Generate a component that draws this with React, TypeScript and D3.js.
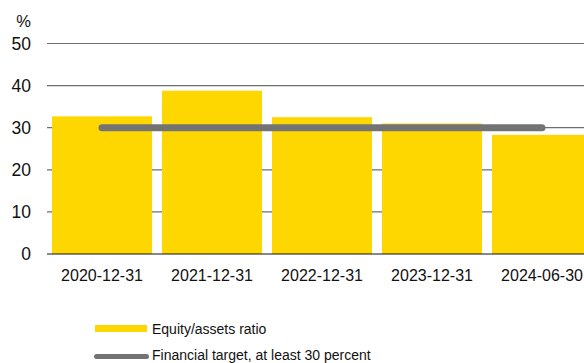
import React from "react";
import * as d3 from "d3";

const categories = ["2020-12-31", "2021-12-31", "2022-12-31", "2023-12-31", "2024-06-30"];
const equityRatio = [32.7, 38.8, 32.5, 31.0, 28.3];
const targetValue = 30;
const yTicks = [0, 10, 20, 30, 40, 50];
const legendLabels = ["Equity/assets ratio", "Financial target, at least 30 percent"];
const unitLabel = "%";

const W = 584;
const H = 363;
const FONT = "Liberation Sans, Arial, Helvetica, sans-serif";
const TEXT = "#111";

export default function App() {
  const x = d3
    .scaleBand<string>()
    .domain(categories)
    .range([47, 597])
    .paddingInner(10 / 110)
    .paddingOuter(5 / 110);
  const y = d3.scaleLinear().domain([0, 50]).range([254, 43.5]);

  const first = categories[0];
  const last = categories[categories.length - 1];
  const targetLine = d3.line<[number, number]>()([
    [x(first)! + x.bandwidth() / 2, y(targetValue)],
    [x(last)! + x.bandwidth() / 2, y(targetValue)],
  ]);

  return (
    <svg
      width={W}
      height={H}
      style={{ position: "absolute", left: 0, top: 0, background: "#fff" }}
      fontFamily={FONT}
    >
      <text x={31} y={27} textAnchor="end" fontSize={16.5} fill={TEXT}>
        {unitLabel}
      </text>
      {yTicks.map((t) => (
        <g key={t}>
          {t !== 0 && (
            <line x1={47} x2={W} y1={y(t)} y2={y(t)} stroke="#6e6e6e" strokeWidth={1.2} />
          )}
          <text
            x={31}
            y={y(t)}
            dy="0.36em"
            textAnchor="end"
            fontSize={17.5}
            fill={TEXT}
          >
            {t}
          </text>
        </g>
      ))}
      {categories.map((c, i) => (
        <rect
          key={c}
          x={x(c)}
          y={y(equityRatio[i])}
          width={x.bandwidth()}
          height={y(0) - y(equityRatio[i])}
          fill="#FFD700"
        />
      ))}
      <line x1={47} x2={W} y1={y(0)} y2={y(0)} stroke="#111" strokeWidth={1.2} />
      <path
        d={targetLine ?? ""}
        stroke="#737373"
        strokeWidth={7}
        strokeLinecap="round"
        fill="none"
      />
      {categories.map((c) => (
        <text
          key={c}
          x={x(c)! + x.bandwidth() / 2}
          y={280.5}
          textAnchor="middle"
          fontSize={16}
          fill={TEXT}
        >
          {c}
        </text>
      ))}
      <rect x={95} y={325} width={52} height={7} fill="#FFD700" />
      <text x={152} y={333.5} fontSize={14} fill={TEXT}>
        {legendLabels[0]}
      </text>
      <line
        x1={96.5}
        x2={146.5}
        y1={356.5}
        y2={356.5}
        stroke="#737373"
        strokeWidth={5}
        strokeLinecap="round"
      />
      <text x={152} y={360} fontSize={14} fill={TEXT}>
        {legendLabels[1]}
      </text>
    </svg>
  );
}
